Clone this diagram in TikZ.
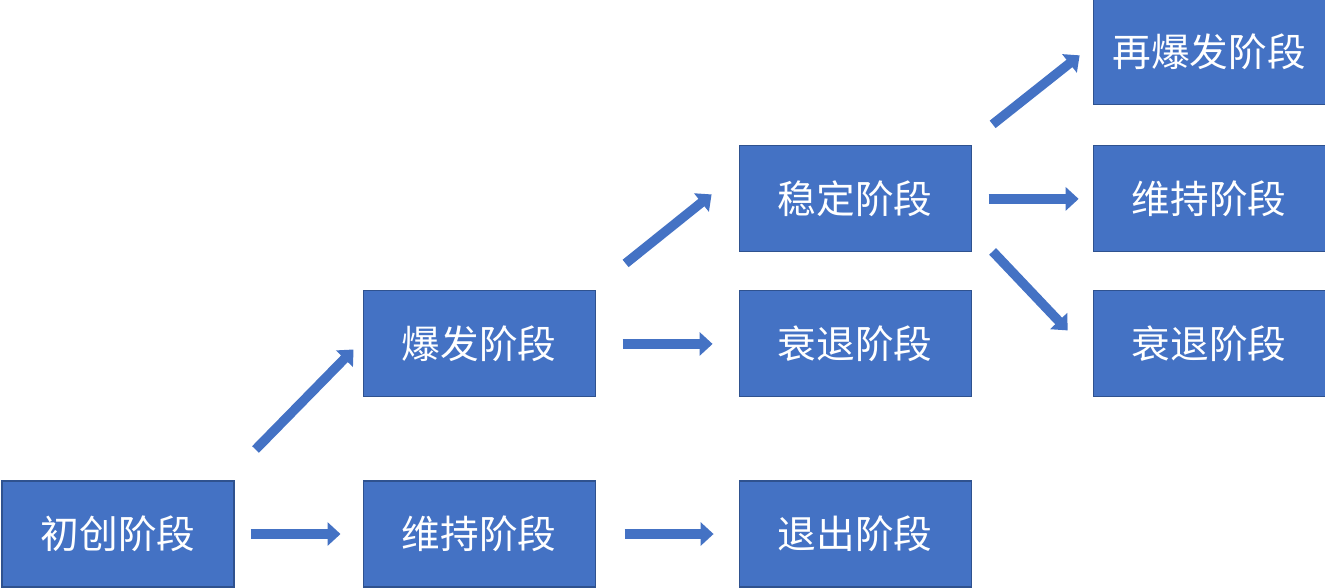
\documentclass[tikz,border=0pt]{standalone}
\usepackage{fontspec}
\newfontfamily\cjk{Noto Sans CJK SC}
\usepackage{tikz}
\usetikzlibrary{arrows.meta}
\usetikzlibrary{positioning}
\usetikzlibrary{calc}
\definecolor{myBlue}{HTML}{4472C4}
\definecolor{myBlueDark}{HTML}{2F528F}

\begin{document}
\begin{tikzpicture}[>=Triangle]
\tikzstyle{stage}=[rectangle, draw=myBlueDark, line width=0.6pt, fill=myBlue, text=white, minimum width=4.64cm, minimum height=2.12cm, inner sep=0pt, font=\cjk\fontsize{22}{26}\selectfont]
\tikzstyle{flow}=[-{Triangle[length=0.26cm, width=0.46cm]}, draw=myBlue, line width=0.19cm]
\useasboundingbox (0,0) rectangle (26.5,-11.74);
% first column
\node[stage] (init) at (2.36,-10.68) {初创阶段};
% second column
\node[stage, right=2.56cm of init] (keepA) {维持阶段};
\node[stage, above=1.66cm of keepA] (burst) {爆发阶段};
% third column
\node[stage, right=2.86cm of keepA] (quit) {退出阶段};
\node[stage, above=1.66cm of quit] (declineA) {衰退阶段};
\node[stage, above=0.76cm of declineA] (stable) {稳定阶段};
% fourth column
\node[stage, right=2.42cm of stable] (keepB) {维持阶段};
\node[stage, above=0.8cm of keepB] (reburst) {再爆发阶段};
\node[stage, below=0.76cm of keepB] (declineB) {衰退阶段};
% straight arrows
\draw[flow, shorten <=0.32cm, shorten >=0.44cm] (init) -- (keepA);
\draw[flow, shorten <=0.54cm, shorten >=0.52cm] (burst) -- (declineA);
\draw[flow, shorten <=0.58cm, shorten >=0.5cm] (keepA) -- (quit);
\draw[flow, shorten <=0.34cm, shorten >=0.28cm] (stable.east) -- (keepB.west);
% diagonal arrows
\draw[flow] ($(init.north east)+(0.42,0.62)$) -- ($(burst.south west)+(-0.18,0.96)$);
\draw[flow] ($(burst.north east)+(0.6,0.54)$) -- ($(stable.south west)+(-0.54,1.16)$);
\draw[flow] ($(stable.north east)+(0.42,0.42)$) -- ($(reburst.south west)+(-0.26,1.0)$);
\draw[flow] ($(stable.south east)+(0.42,0.02)$) -- ($(declineB.north west)+(-0.5,-0.8)$);
\end{tikzpicture}
\end{document}
